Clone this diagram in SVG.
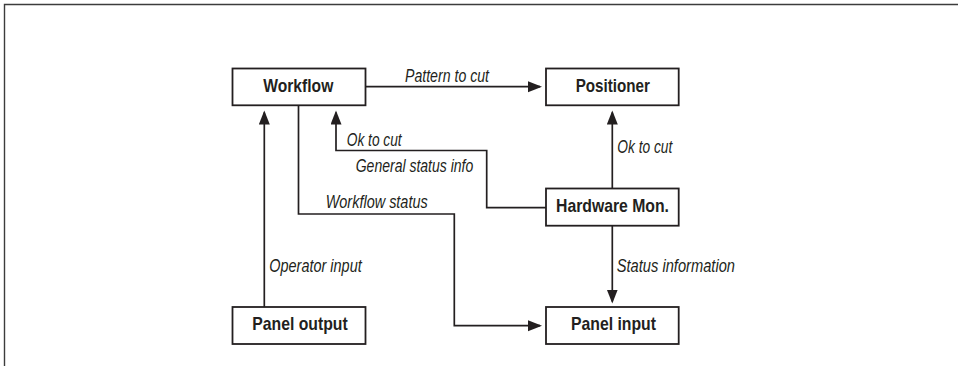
<svg xmlns="http://www.w3.org/2000/svg" width="958" height="366" viewBox="0 0 958 366">
  <style>
    .box { fill: #ffffff; stroke: #231f20; stroke-width: 1.8; }
    .lbl { font-family: "Liberation Sans", Arial, sans-serif; font-weight: bold; font-size: 18.5px; fill: #231f20; }
    .edge { font-family: "Liberation Sans", Arial, sans-serif; font-style: italic; font-size: 18.5px; fill: #231f20; }
    .wire { fill: none; stroke: #231f20; stroke-width: 1.7; }
    .frame { fill: none; stroke: #3c3c3c; stroke-width: 1.4; }
  </style>
  <defs>
    <marker id="arrow" markerUnits="userSpaceOnUse" markerWidth="16" markerHeight="12" refX="12" refY="5.5" orient="auto">
      <path d="M0,0 L14,5.5 L0,11 Z" fill="#231f20"/>
    </marker>
  </defs>

  <rect width="958" height="366" fill="#ffffff"/>
  <!-- page frame: left and top rule -->
  <path class="frame" d="M4.5,366 V4.5 H958"/>

  <!-- connectors -->
  <g id="connectors">
    <path class="wire" d="M365.5,86.7 H540" marker-end="url(#arrow)"/>
    <path class="wire" d="M264.3,307 V112.5" marker-end="url(#arrow)"/>
    <path class="wire" d="M298.5,105 V214 H454.3 V325.7 H540" marker-end="url(#arrow)"/>
    <path class="wire" d="M546,207.7 H486.7 V150.5 H336 V112.5" marker-end="url(#arrow)"/>
    <path class="wire" d="M612.3,188.5 V112.5" marker-end="url(#arrow)"/>
    <path class="wire" d="M612.3,225.7 V301.5" marker-end="url(#arrow)"/>

    <text class="edge" x="405" y="81.7" textLength="84" lengthAdjust="spacingAndGlyphs">Pattern to cut</text>
    <text class="edge" x="346.7" y="145.7" textLength="55" lengthAdjust="spacingAndGlyphs">Ok to cut</text>
    <text class="edge" x="355.7" y="171.7" textLength="117.6" lengthAdjust="spacingAndGlyphs">General status info</text>
    <text class="edge" x="325.7" y="208.3" textLength="102" lengthAdjust="spacingAndGlyphs">Workflow status</text>
    <text class="edge" x="617.3" y="153.3" textLength="55" lengthAdjust="spacingAndGlyphs">Ok to cut</text>
    <text class="edge" x="269.3" y="271.7" textLength="92.4" lengthAdjust="spacingAndGlyphs">Operator input</text>
    <text class="edge" x="616.7" y="272.3" textLength="118.3" lengthAdjust="spacingAndGlyphs">Status information</text>
  </g>

  <!-- nodes -->
  <g id="workflow">
    <rect class="box" x="232.5" y="68.5" width="133" height="36.8"/>
    <text class="lbl" x="263.3" y="91.7" textLength="70" lengthAdjust="spacingAndGlyphs">Workflow</text>
  </g>
  <g id="positioner">
    <rect class="box" x="546" y="68.5" width="132.7" height="36.8"/>
    <text class="lbl" x="575.7" y="91.7" textLength="74.3" lengthAdjust="spacingAndGlyphs">Positioner</text>
  </g>
  <g id="hardware-mon">
    <rect class="box" x="546" y="188.5" width="132.7" height="37.2"/>
    <text class="lbl" x="556" y="211.7" textLength="113" lengthAdjust="spacingAndGlyphs">Hardware Mon.</text>
  </g>
  <g id="panel-output">
    <rect class="box" x="232.5" y="307" width="133" height="37"/>
    <text class="lbl" x="252.3" y="330" textLength="95.4" lengthAdjust="spacingAndGlyphs">Panel output</text>
  </g>
  <g id="panel-input">
    <rect class="box" x="546" y="307" width="132.7" height="37"/>
    <text class="lbl" x="571" y="330" textLength="85" lengthAdjust="spacingAndGlyphs">Panel input</text>
  </g>
</svg>
